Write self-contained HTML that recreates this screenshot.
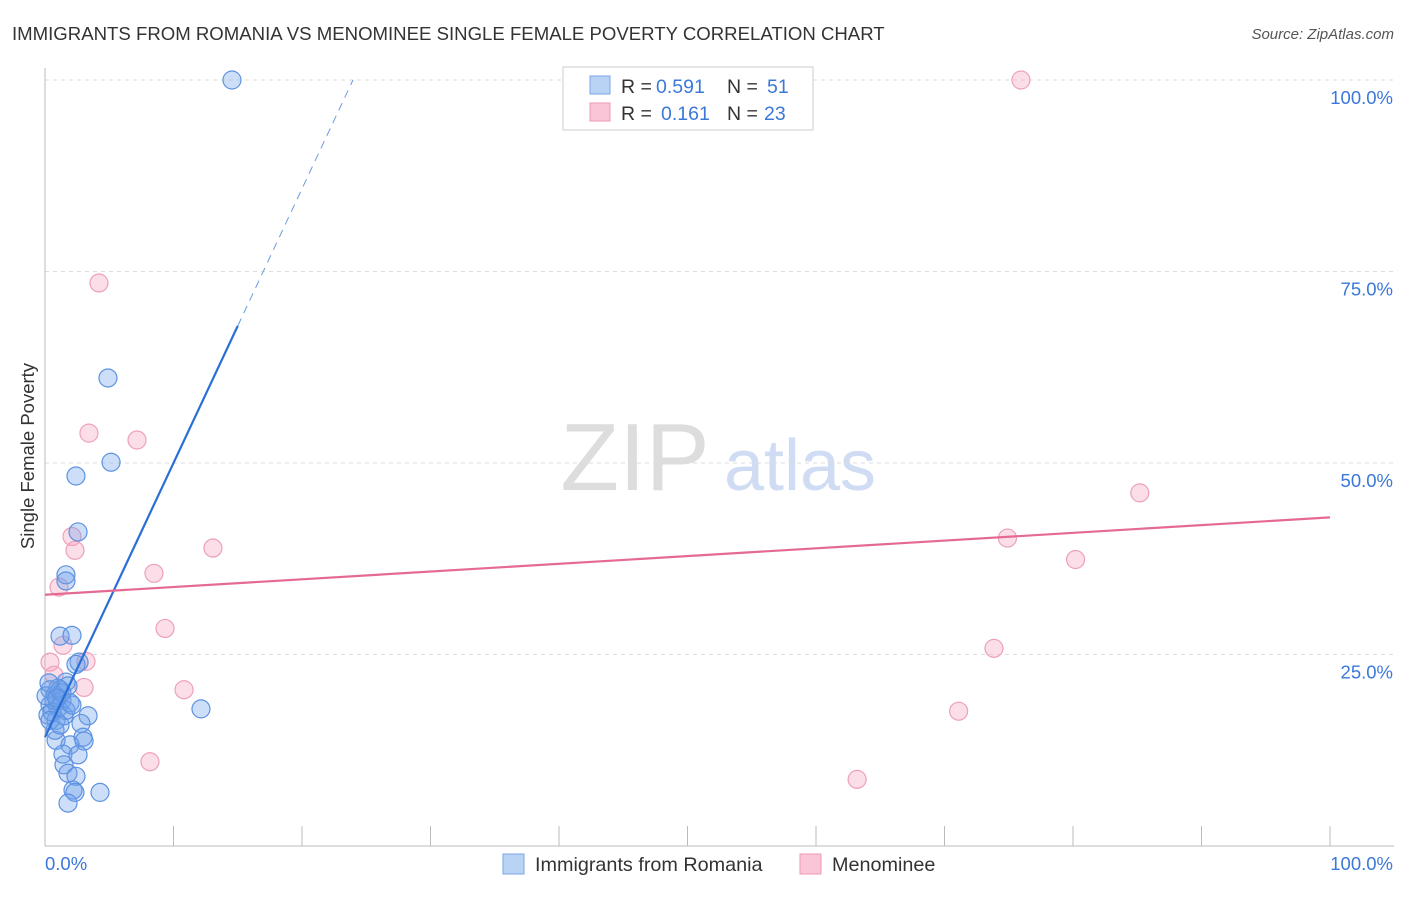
<!DOCTYPE html>
<html><head><meta charset="utf-8"><style>
body{margin:0;background:#fff;font-family:"Liberation Sans",sans-serif}
svg text{font-family:"Liberation Sans",sans-serif}
</style></head><body>
<svg id="chart" width="1406" height="892" xmlns="http://www.w3.org/2000/svg">
<text x="12" y="40" font-size="18.6" fill="#333">IMMIGRANTS FROM ROMANIA VS MENOMINEE SINGLE FEMALE POVERTY CORRELATION CHART</text>
<text x="1394" y="39" font-size="15" fill="#555" text-anchor="end" font-style="italic">Source: ZipAtlas.com</text>
<g>
<text x="635" y="490" font-size="96" fill="#ddd" text-anchor="middle" font-family="Liberation Serif,serif">ZIP</text>
<text x="800" y="490" font-size="72" fill="#cfdcf3" text-anchor="middle">atlas</text>
</g>
<g id="grid"></g>
<g id="axes"></g>
<g id="marks"></g>
<text transform="translate(34,456) rotate(-90)" font-size="18.5" fill="#333" text-anchor="middle">Single Female Poverty</text>
<g>
<rect x="563" y="67" width="250" height="63" fill="#fff" stroke="#ccc"/>
<rect x="590" y="76" width="20" height="18" fill="#b9d3f5" stroke="#7aa6e6"/>
<rect x="590" y="103" width="20" height="18" fill="#fac5d6" stroke="#ee9ab5"/>
<text x="621" y="93" font-size="19.5" fill="#333">R =</text>
<text x="656" y="93" font-size="19.5" fill="#3b78d8">0.591</text>
<text x="727" y="93" font-size="19.5" fill="#333">N =</text>
<text x="767" y="93" font-size="19.5" fill="#3b78d8">51</text>
<text x="621" y="120" font-size="19.5" fill="#333">R =</text>
<text x="661" y="120" font-size="19.5" fill="#3b78d8">0.161</text>
<text x="727" y="120" font-size="19.5" fill="#333">N =</text>
<text x="764" y="120" font-size="19.5" fill="#3b78d8">23</text>
</g>
<g>
<rect x="503" y="854" width="21" height="20" fill="#b9d3f5" stroke="#7aa6e6"/>
<text x="535" y="871" font-size="19.8" fill="#333">Immigrants from Romania</text>
<rect x="800" y="854" width="21" height="20" fill="#fac5d6" stroke="#ee9ab5"/>
<text x="832" y="871" font-size="19.8" fill="#333">Menominee</text>
</g>
</svg>
<script>
const blueX=[14.55,4.9,5.14,2.41,2.57,1.63,1.63,1.17,2.1,2.65,2.41,0.39,0.78,1.32,1.95,0.39,1.01,1.63,1.79,0.23,0.86,1.48,3.35,2.8,0.86,2.96,3.04,1.95,1.4,2.57,1.48,1.79,2.41,2.18,2.33,1.79,4.28,12.14,0.54,1.17,0.7,1.32,0.08,1.01,0.78,1.63,0.39,1.17,2.1,0.31,0.93];
const blueY=[100,61.1,50.1,48.3,41.0,35.4,34.6,27.4,27.5,24.0,23.7,20.4,19.7,19.0,18.7,18.4,18.0,21.4,20.9,17.1,16.4,17.0,17.0,16.0,13.8,14.2,13.7,13.2,12.0,11.9,10.6,9.5,9.1,7.3,7.0,5.6,7.0,17.9,17.5,20.4,19.0,20.0,19.6,20.6,15.1,17.7,16.4,15.8,18.4,21.3,19.3];
const pinkX=[75.95,4.2,3.42,7.16,85.2,2.1,2.33,13.07,1.09,8.48,74.9,80.2,9.34,1.4,73.85,0.39,3.19,0.7,3.04,10.82,71.1,8.17,63.2];
const pinkY=[100,73.5,53.9,53.0,46.1,40.4,38.6,38.9,33.8,35.6,40.2,37.4,28.4,26.2,25.8,24.0,24.1,22.3,20.7,20.4,17.6,11.0,8.7];
const blueTrend=[14.2,3.58];
const pinkTrend=[32.8,0.101];
const yTicks=[25,50,75,100];
const yTickLabels=["25.0%","50.0%","75.0%","100.0%"];
const xEdgeLabels=["0.0%","100.0%"];

const NS="http://www.w3.org/2000/svg";
const sx=v=>45+v*12.85, sy=v=>846-v*7.66;
function mk(tag,attrs,parent){const e=document.createElementNS(NS,tag);for(const k in attrs)e.setAttribute(k,attrs[k]);document.getElementById(parent).appendChild(e);return e;}
yTicks.forEach((t,i)=>{
 const g=mk('line',{x1:45,x2:1394,y1:sy(t),y2:sy(t),stroke:'#ddd','stroke-dasharray':'4,4'},'grid');
 
 
 const l=mk('text',{x:1393,y:sy(t)+24,'font-size':18.5,fill:'#3b78d8','text-anchor':'end'},'axes');
 l.textContent=yTickLabels[i];
 
 
});
const ya=mk('line',{x1:45,x2:45,y1:68,y2:846,stroke:'#bbb'},'axes');


const xa=mk('line',{x1:45,x2:1394,y1:846,y2:846,stroke:'#bbb'},'axes');


for(let i=1;i<=10;i++){
 const t=mk('line',{x1:sx(i*10),x2:sx(i*10),y1:826,y2:846,stroke:'#bbb'},'axes');
 
 
}
[[0,'start',45],[1,'end',1393]].forEach(([i,a,x])=>{
 const l=mk('text',{x:x,y:870,'font-size':18.5,fill:'#3b78d8','text-anchor':a},'axes');
 l.textContent=xEdgeLabels[i];
 
 
});
function pts(X,Y,fill,stroke,name){X.forEach((x,i)=>{
 const c=mk('circle',{cx:sx(x),cy:sy(Y[i]),r:9,fill:fill,stroke:stroke,'stroke-width':1.2},'marks');
 
 
});}
pts(pinkX,pinkY,'rgba(245,160,190,0.35)','#eda0ba','menominee-point');
pts(blueX,blueY,'rgba(110,160,235,0.35)','#5e92e0','romania-point');
const bEnd=15;const bDash=(100-blueTrend[0])/blueTrend[1];
const b1=mk('line',{x1:sx(0),y1:sy(blueTrend[0]),x2:sx(bEnd),y2:sy(blueTrend[0]+blueTrend[1]*bEnd),stroke:'#2a6fd6','stroke-width':2.2},'marks');


const b2=mk('line',{x1:sx(bEnd),y1:sy(blueTrend[0]+blueTrend[1]*bEnd),x2:sx(bDash),y2:sy(100),stroke:'#6a9be0','stroke-width':1,'stroke-dasharray':'8,6'},'marks');


const p1=mk('line',{x1:sx(0),y1:sy(pinkTrend[0]),x2:sx(100),y2:sy(pinkTrend[0]+pinkTrend[1]*100),stroke:'#e56a93','stroke-width':2.2},'marks');


</script>
</body></html>
